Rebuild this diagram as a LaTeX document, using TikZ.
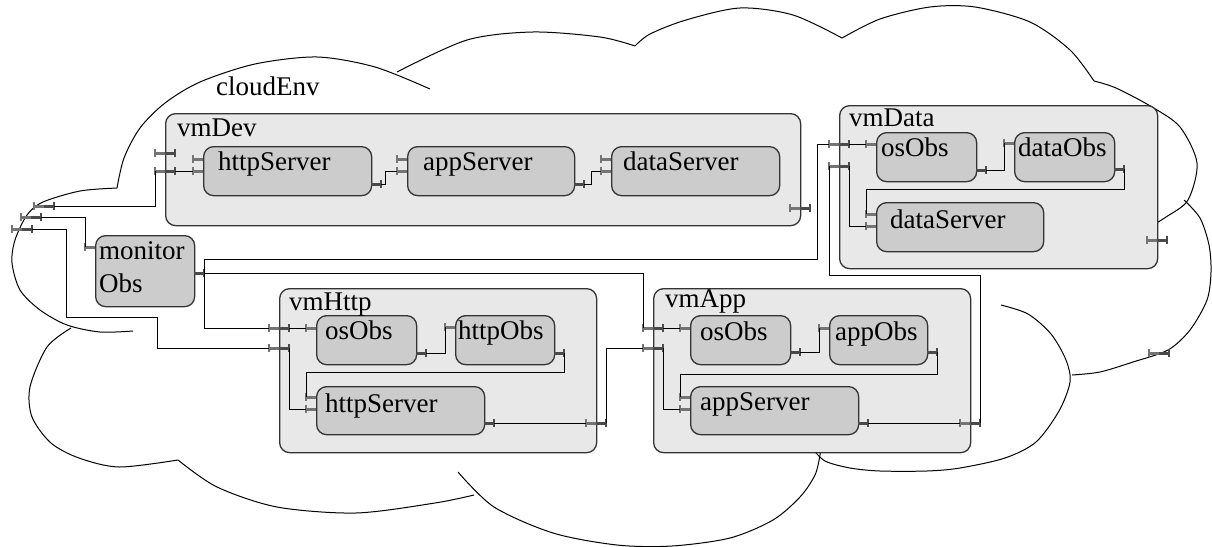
\documentclass[tikz,border=0pt]{standalone}
\usepackage{fontspec}
\setmainfont{Liberation Serif}

\definecolor{vmfill}{HTML}{E8E8E8}
\definecolor{compfill}{HTML}{CCCCCC}
\definecolor{edgegray}{HTML}{333333}
\definecolor{portlight}{HTML}{747474}
\definecolor{portdark}{HTML}{4A4A4A}

\tikzset{
  cloudline/.style={line width=1pt, black},
  vmbox/.style={draw=edgegray, fill=vmfill, line width=1.3pt, rounded corners=10pt, anchor=north west, inner sep=0pt},
  compbox/.style={draw=edgegray, fill=compfill, line width=1.3pt, rounded corners=10pt, anchor=north west, inner sep=0pt},
  lbl/.style={anchor=base west, inner sep=0pt, font=\fontsize{27}{32}\selectfont},
  wire/.style={line width=1pt, black},
  portbar/.style={line width=3pt},
  porttick/.style={line width=2.5pt},
}

% port stub running west of an edge, tick at its far end (named)
\newcommand{\portW}[3]{%
  \coordinate (#1) at ({#2-10},#3);
  \draw[portbar,portlight] (#2,#3) -- (#1);
  \draw[porttick,portlight] ({#2-10},{#3-4}) -- ({#2-10},{#3+4});
}
% port stub running east of an edge, tick at its far end (named)
\newcommand{\portE}[3]{%
  \coordinate (#1) at ({#2+10},#3);
  \draw[portbar,portdark] (#2,#3) -- (#1);
  \draw[porttick,portdark] ({#2+10},{#3-4}) -- ({#2+10},{#3+4});
}

\begin{document}
\begin{tikzpicture}[x=1pt,y=-1pt]
\useasboundingbox (0,0) rectangle (1212,546);

% ---- cloud outline, one lobe per path ----
\draw[cloudline] plot[smooth] coordinates {(117,188) (124,158) (140,128) (165,103) (200,82) (255,64) (317,57) (375,67) (430,89)};
\draw[cloudline] plot[smooth] coordinates {(397,72) (467,40) (533,32) (600,37) (635,46)};
\draw[cloudline] plot[smooth] coordinates {(635,46) (650,34) (686,20) (740,8) (793,15) (842,38)};
\draw[cloudline] plot[smooth] coordinates {(842,38) (880,19) (930,7) (975,7) (1030,22) (1070,50) (1094,81)};
\draw[cloudline] plot[smooth] coordinates {(1094,81) (1116,88) (1152,107) (1180,127) (1197,163) (1188,200) (1166,217) (1148,228)};
\draw[cloudline] plot[smooth] coordinates {(1184,200) (1200,218) (1209,245) (1211,272) (1207,300) (1190,330) (1168,350) (1133,362) (1100,372) (1072,375)};
\draw[cloudline] plot[smooth] coordinates {(1001,305) (1028,314) (1051,334) (1066,360) (1070,382) (1059,411) (1036,442) (1005,458) (960,468) (927,471) (880,471) (850,468) (825,461) (812,448)};
\draw[cloudline] plot[smooth] coordinates {(458,472) (494,507) (553,533) (617,545) (672,546) (730,538) (773,520) (800,497) (815,475) (820,455) (821,444)};
\draw[cloudline] plot[smooth] coordinates {(178,460) (217,487) (277,507) (356,513) (435,503) (474,495)};
\draw[cloudline] plot[smooth] coordinates {(71,328) (47,347) (30,387) (32,417) (51,443) (79,458) (119,467) (178,460)};
\draw[cloudline] plot[smooth] coordinates {(117,188) (80,191) (43,202) (27,215) (15,240) (12,263) (20,290) (40,310) (67,325) (100,332) (133,331)};

% ---- virtual machines and the monitor ----
\node[vmbox, minimum width=635pt, minimum height=112pt] (vmDev) at (165,113) {};
\node[vmbox, minimum width=318pt, minimum height=163pt] (vmData) at (839,105) {};
\node[vmbox, minimum width=317pt, minimum height=164pt] (vmHttp) at (279,288) {};
\node[vmbox, minimum width=317pt, minimum height=164pt] (vmApp) at (653,288) {};
\node[compbox, minimum width=99pt, minimum height=71pt] (monitorObs) at (95,235) {};

% ---- ports ----
\portW{cA-out}{44}{206} \portE{cA-in}{44}{206}
\portW{cB-out}{31}{217} \portE{cB-in}{31}{217}
\portW{cC-out}{22}{229} \portE{cC-in}{22}{229}
\portW{cR-in}{1159}{353} \portE{cR-out}{1159}{353}

\portW{dL1-out}{165}{153} \portE{dL1-in}{165}{153}
\portW{dL2-out}{165}{171} \portE{dL2-in}{165}{171}
\portW{dR-in}{800}{208} \portE{dR-out}{800}{208}

\portW{tL1-out}{839}{144} \portE{tL1-in}{839}{144}
\portW{tL2-out}{839}{166} \portE{tL2-in}{839}{166}
\portW{tR-in}{1157}{240} \portE{tR-out}{1157}{240}

\portW{hL1-out}{279}{328} \portE{hL1-in}{279}{328}
\portW{hL2-out}{279}{348} \portE{hL2-in}{279}{348}
\portW{hR-in}{596}{423} \portE{hR-out}{596}{423}

\portW{aL1-out}{653}{328} \portE{aL1-in}{653}{328}
\portW{aL2-out}{653}{348} \portE{aL2-in}{653}{348}
\portW{aR-in}{970}{423} \portE{aR-out}{970}{423}

\portW{monL}{95}{247} \portE{monR}{194}{273}

% ---- connectors ----
\draw[wire] (cA-in) -| (dL2-out);
\draw[wire] (cB-in) -| (monL);
\draw[wire] (cC-in) -| (66,317) -| (157,348) -- (hL2-out);
\draw[wire] (monR) -- ++(0,-14) -| ([xshift=-12pt]tL1-out) -- (tL1-out);
\draw[wire] (monR) -| (aL1-out);
\draw[wire] (monR) |- (hL1-out);
\draw[wire] (hR-out) |- (aL2-out);
\draw[wire] (aR-out) -- ++(0,-148) -| (tL2-out);

% ---- components inside vmDev ----
\node[compbox, minimum width=168pt, minimum height=49pt] (devHttp) at (203,146) {};
\node[compbox, minimum width=167pt, minimum height=49pt] (devApp) at (407,146) {};
\node[compbox, minimum width=168pt, minimum height=49pt] (devData) at (611,146) {};
\portW{dhsL1}{203}{159} \portW{dhsL2}{203}{171} \portE{dhsR}{371}{184}
\portW{dasL1}{407}{159} \portW{dasL2}{407}{171} \portE{dasR}{574}{184}
\portW{ddsL1}{611}{159} \portW{ddsL2}{611}{171}
\draw[wire] (dL2-in) -- (dhsL2);
\draw[wire] (dhsR) -- ++(4,0) |- (dasL2);
\draw[wire] (dasR) -- ++(7,0) |- (ddsL2);

% ---- components inside vmData ----
\node[compbox, minimum width=100pt, minimum height=49pt] (dataOs) at (876,132) {};
\node[compbox, minimum width=100pt, minimum height=49pt] (dataObs) at (1014,132) {};
\node[compbox, minimum width=167pt, minimum height=49pt] (dataSrv) at (876,202) {};
\portW{tosL}{876}{144} \portE{tosR}{976}{170}
\portW{tobsL}{1014}{143} \portE{tobsR}{1114}{169}
\portW{tsrvL1}{876}{214} \portW{tsrvL2}{876}{226}
\draw[wire] (tL1-in) -- (tosL);
\draw[wire] (tL2-in) |- (tsrvL2);
\draw[wire] (tosR) -| (tobsL);
\draw[wire] (tobsR) -- ++(0,20) -| (tsrvL1);

% ---- components inside vmHttp ----
\node[compbox, minimum width=100pt, minimum height=49pt] (httpOs) at (316,315) {};
\node[compbox, minimum width=99pt, minimum height=49pt] (httpObs) at (455,315) {};
\node[compbox, minimum width=168pt, minimum height=48pt] (httpSrv) at (316,386) {};
\portW{hosL}{316}{328} \portE{hosR}{416}{353}
\portW{hobsL}{455}{327} \portE{hobsR}{554}{353}
\portW{hsrvL1}{316}{397} \portW{hsrvL2}{316}{409} \portE{hsrvR}{484}{423}
\draw[wire] (hL1-in) -- (hosL);
\draw[wire] (hL2-in) |- (hsrvL2);
\draw[wire] (hosR) -| (hobsL);
\draw[wire] (hobsR) -- ++(0,19) -| (hsrvL1);
\draw[wire] (hsrvR) -- (hR-in);

% ---- components inside vmApp ----
\node[compbox, minimum width=100pt, minimum height=49pt] (appOs) at (690,315) {};
\node[compbox, minimum width=98pt, minimum height=49pt] (appObs) at (829,315) {};
\node[compbox, minimum width=168pt, minimum height=48pt] (appSrv) at (690,386) {};
\portW{aosL}{690}{328} \portE{aosR}{790}{352}
\portW{aobsL}{829}{328} \portE{aobsR}{927}{352}
\portW{asrvL1}{690}{397} \portW{asrvL2}{690}{409} \portE{asrvR}{858}{423}
\draw[wire] (aL1-in) -- (aosL);
\draw[wire] (aL2-in) |- (asrvL2);
\draw[wire] (aosR) -| (aobsL);
\draw[wire] (aobsR) -- ++(0,22) -| (asrvL1);
\draw[wire] (asrvR) -- (aR-in);

% ---- labels ----
\node[lbl] (tCloud) at (216,95) {cloudEnv};
\node[lbl] (tDev) at (177,136) {vmDev};
\node[lbl] (tDevHttp) at (218,170) {httpServer};
\node[lbl] (tDevApp) at (423,170) {appServer};
\node[lbl] (tDevData) at (623,170) {dataServer};
\node[lbl] (tData) at (849,126) {vmData};
\node[lbl] (tDataOs) at (881,156) {osObs};
\node[lbl] (tDataObs) at (1018,156) {dataObs};
\node[lbl] (tDataSrv) at (890,228) {dataServer};
\node[lbl] (tMon1) at (99,259) {monitor};
\node[lbl] (tMon2) at (99,292) {Obs};
\node[lbl] (tHttp) at (289,310) {vmHttp};
\node[lbl] (tHttpOs) at (325,339) {osObs};
\node[lbl] (tHttpObs) at (458,339) {httpObs};
\node[lbl] (tHttpSrv) at (325,412) {httpServer};
\node[lbl] (tApp) at (665,307) {vmApp};
\node[lbl] (tAppOs) at (700,340) {osObs};
\node[lbl] (tAppObs) at (835,340) {appObs};
\node[lbl] (tAppSrv) at (700,410) {appServer};
\end{tikzpicture}
\end{document}
